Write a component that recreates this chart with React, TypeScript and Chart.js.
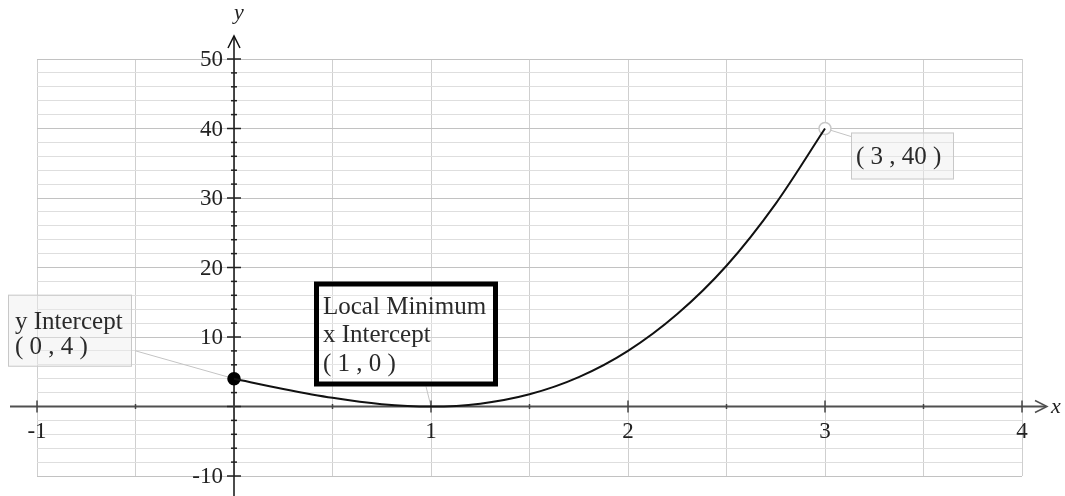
import { useEffect, useRef } from "react";
import { Chart, registerables } from "chart.js";

Chart.register(...registerables);

// ---- data ----
const curveX = [0, 0.25, 0.5, 0.75, 1, 1.25, 1.5, 1.75, 2, 2.25, 2.5, 2.75, 3];
const curveY = [4, 2.53, 1.25, 0.34, 0, 0.41, 1.75, 4.22, 8, 13.3, 20.25, 29.2, 40];
const keyPointX = [0, 3];
const keyPointY = [4, 40];
const yTickLabels = [-10, 10, 20, 30, 40, 50];
const xTickLabels = [-1, 1, 2, 3, 4];
const annotationTexts = [
  ["y Intercept", "( 0 , 4 )"],
  ["Local Minimum", "x Intercept", "( 1 , 0 )"],
  ["( 3 , 40 )"],
];
const annotationAnchorX = [0, 1, 3];
const annotationAnchorY = [4, 0, 40];

// ---- styling of annotations (pixel offsets from anchor) ----
const annStyles = [
  { dx: -226, dy: -84, w: 124, h: 72, border: 1, borderColor: "#c8c8c8", fill: "rgba(238,238,238,0.45)", tx: 6, baselines: [34, 59], leadFrom: [-99, -28] },
  { dx: -117, dy: -125, w: 184, h: 105, border: 5, borderColor: "#000", fill: "rgba(255,255,255,0.25)", tx: 4, baselines: [32, 60, 89], leadFrom: [-5, -20] },
  { dx: 26, dy: 4, w: 103, h: 47, border: 1, borderColor: "#c8c8c8", fill: "rgba(238,238,238,0.45)", tx: 4, baselines: [31], leadFrom: [26, 8] },
];

const SERIF = '"Liberation Serif", "Times New Roman", serif';

const overlayPlugin = {
  id: "overlay",
  beforeDatasetsDraw(chart: any) {
    const { ctx, chartArea } = chart;
    const xs = chart.scales.x;
    const ys = chart.scales.y;
    const x0 = xs.getPixelForValue(0);
    const y0 = ys.getPixelForValue(0);
    ctx.save();

    // leader lines
    ctx.strokeStyle = "#c4c4c4";
    ctx.lineWidth = 1;
    annStyles.forEach((s, i) => {
      const ax = xs.getPixelForValue(annotationAnchorX[i]);
      const ay = ys.getPixelForValue(annotationAnchorY[i]);
      ctx.beginPath();
      ctx.moveTo(ax + s.leadFrom[0], ay + s.leadFrom[1]);
      ctx.lineTo(ax, ay);
      ctx.stroke();
    });

    // x axis
    ctx.strokeStyle = "#505050";
    ctx.lineWidth = 2;
    ctx.beginPath();
    ctx.moveTo(chartArea.left - 27, y0);
    ctx.lineTo(chartArea.right + 24, y0);
    ctx.stroke();
    ctx.lineWidth = 1.5;
    ctx.beginPath();
    ctx.moveTo(chartArea.right + 13, y0 - 6);
    ctx.lineTo(chartArea.right + 25, y0);
    ctx.lineTo(chartArea.right + 13, y0 + 6);
    ctx.stroke();

    // y axis
    ctx.strokeStyle = "#111";
    ctx.lineWidth = 1.5;
    ctx.beginPath();
    ctx.moveTo(x0, chart.height);
    ctx.lineTo(x0, chartArea.top - 23);
    ctx.stroke();
    ctx.beginPath();
    ctx.moveTo(x0 - 6, chartArea.top - 11);
    ctx.lineTo(x0, chartArea.top - 23);
    ctx.lineTo(x0 + 6, chartArea.top - 11);
    ctx.stroke();

    // y ticks
    ctx.strokeStyle = "#222";
    ctx.lineWidth = 1.5;
    for (let v = ys.min; v <= ys.max; v += 2) {
      const py = ys.getPixelForValue(v);
      const major = v % 10 === 0;
      const len = major ? 7 : 3;
      ctx.beginPath();
      ctx.moveTo(x0 - len, py);
      ctx.lineTo(x0 + len, py);
      ctx.stroke();
    }
    // x ticks
    ctx.strokeStyle = "#444";
    for (let v = xs.min; v <= xs.max; v += 0.5) {
      const px = xs.getPixelForValue(v);
      const major = Number.isInteger(v);
      const len = major ? 6 : 2.5;
      ctx.beginPath();
      ctx.moveTo(px, y0 - len);
      ctx.lineTo(px, y0 + len);
      ctx.stroke();
    }

    // tick labels
    ctx.fillStyle = "#222";
    ctx.font = `23px ${SERIF}`;
    ctx.textAlign = "right";
    ctx.textBaseline = "middle";
    yTickLabels.forEach((v) => {
      ctx.fillText(String(v), x0 - 11, ys.getPixelForValue(v) + 1);
    });
    ctx.textAlign = "center";
    ctx.textBaseline = "alphabetic";
    xTickLabels.forEach((v) => {
      ctx.fillText(String(v), xs.getPixelForValue(v), y0 + 31);
    });

    // axis names
    ctx.font = `italic 22px ${SERIF}`;
    ctx.textAlign = "left";
    ctx.fillText("x", chartArea.right + 29, y0 + 6);
    ctx.textAlign = "center";
    ctx.fillText("y", x0 + 5, chartArea.top - 40);
    ctx.restore();
  },
  afterDatasetsDraw(chart: any) {
    const { ctx } = chart;
    const xs = chart.scales.x;
    const ys = chart.scales.y;
    ctx.save();
    annStyles.forEach((s, i) => {
      const ax = xs.getPixelForValue(annotationAnchorX[i]);
      const ay = ys.getPixelForValue(annotationAnchorY[i]);
      const left = ax + s.dx;
      const top = ay + s.dy;
      ctx.fillStyle = s.fill;
      ctx.fillRect(left, top, s.w, s.h);
      ctx.strokeStyle = s.borderColor;
      ctx.lineWidth = s.border;
      ctx.strokeRect(left + s.border / 2, top + s.border / 2, s.w - s.border, s.h - s.border);
      ctx.fillStyle = "#2a2a2a";
      ctx.font = `25px ${SERIF}`;
      ctx.textAlign = "left";
      ctx.textBaseline = "alphabetic";
      annotationTexts[i].forEach((line, j) => {
        ctx.fillText(line, left + s.border + s.tx, top + s.baselines[j]);
      });
    });
    ctx.restore();
  },
};

export default function App() {
  const ref = useRef<HTMLCanvasElement | null>(null);

  useEffect(() => {
    if (!ref.current) return;
    const chart = new Chart(ref.current, {
      type: "scatter",
      data: {
        datasets: [
          {
            data: curveX.map((x, i) => ({ x, y: curveY[i] })),
            showLine: true,
            borderColor: "#111",
            borderWidth: 2,
            pointRadius: 0,
            cubicInterpolationMode: "monotone",
            fill: false,
          } as any,
          {
            data: keyPointX.map((x, i) => ({ x, y: keyPointY[i] })),
            showLine: false,
            pointRadius: 6,
            pointBackgroundColor: ["#000", "#fff"],
            pointBorderColor: ["#000", "#c8c8c8"],
            pointBorderWidth: 1.5,
          } as any,
        ],
      },
      options: {
        responsive: false,
        animation: false,
        devicePixelRatio: 1,
        layout: { padding: { left: 37, right: 43, top: 59, bottom: 20 } },
        plugins: { legend: { display: false }, tooltip: { enabled: false } },
        events: [],
        scales: {
          x: {
            type: "linear",
            min: -1,
            max: 4,
            ticks: { display: false, stepSize: 0.5 },
            border: { display: false },
            grid: { drawTicks: false, color: "#cfcfcf", lineWidth: 1 },
          },
          y: {
            type: "linear",
            min: -10,
            max: 50,
            ticks: { display: false, stepSize: 2 },
            border: { display: false },
            grid: {
              drawTicks: false,
              color: (c: any) => (c.tick && c.tick.value % 10 === 0 ? "#c2c2c2" : "#dedede"),
              lineWidth: 1,
            },
          },
        },
      },
      plugins: [overlayPlugin],
    });
    return () => chart.destroy();
  }, []);

  return (
    <div style={{ position: "fixed", left: 0, top: 0, width: 1065, height: 496, background: "#fff" }}>
      <canvas ref={ref} width={1065} height={496} />
    </div>
  );
}
